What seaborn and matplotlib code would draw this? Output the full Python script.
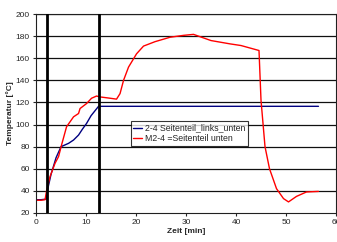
import matplotlib
matplotlib.use('Agg')
import matplotlib.pyplot as plt
import seaborn as sns
import pandas as pd

sns.set_style('ticks')
plt.rcParams['font.family'] = ['Liberation Sans', 'DejaVu Sans']

# Blue series: 2-4 Seitenteil_links_unten
blue_t = [0, 1, 2, 2.5, 3, 4, 5, 6, 6.5, 7.5, 8.5, 9.3, 10.1, 11, 12.5, 20, 30, 40, 50, 56.5]
blue_v = [32, 32, 32.5, 45, 55, 70, 80, 82, 83, 86, 90.5, 96, 101, 108, 116.5, 116.5, 116.5, 116.5, 116.5, 116.5]

# Red series: M2-4 =Seitenteil unten
red_t = [0, 1, 1.8, 2.1, 2.8, 3.8, 4.5, 5.1, 6.1, 7.5, 8.5, 8.8, 10.1, 11.1, 12.1, 12.8,
         14.5, 16.1, 16.8, 17.5, 18.5, 20.1, 21.5, 23.8, 26.8, 29.5, 31.5, 32.8, 35,
         38.8, 41, 43.8, 44.6, 45, 45.8, 46.7, 48.1, 49.5, 50.5, 52.1, 54.1, 56.5]
red_v = [31.5, 31.5, 32, 40, 53, 65, 71, 81.5, 98, 107, 110, 114.5, 119, 123.8, 125.8, 125,
         124, 123, 128, 140, 152, 164, 171, 175, 179, 180.7, 181.6, 179.5, 176,
         173, 171.5, 168, 167, 122, 80, 60, 42, 33, 30, 35, 39, 39.5]

markers_t = [2.2, 12.5]

df = pd.concat([
    pd.DataFrame({'Zeit': blue_t, 'Temp': blue_v, 'Serie': '2-4 Seitenteil_links_unten'}),
    pd.DataFrame({'Zeit': red_t, 'Temp': red_v, 'Serie': 'M2-4 =Seitenteil unten'}),
])

fig = plt.figure(figsize=(3.37, 2.42), dpi=100)
ax = fig.add_axes([0.107, 0.12, 0.89, 0.822])

for y in range(40, 201, 20):
    ax.axhline(y, color='#101010', linewidth=0.9, zorder=0)

sns.lineplot(data=df, x='Zeit', y='Temp', hue='Serie',
             palette=['#000080', '#ff0000'], linewidth=1.0, ax=ax, sort=False)

for xm in markers_t:
    ax.axvline(xm, color='black', linewidth=2.0, zorder=3)

ax.set_xlim(0, 60)
ax.set_ylim(20, 200)
ax.set_xticks(range(0, 61, 10))
ax.set_yticks(range(20, 201, 20))
ax.tick_params(labelsize=6, length=2.5, width=0.8, pad=2)
ax.set_xlabel('Zeit [min]', fontsize=6, fontweight='bold', labelpad=1)
ax.set_ylabel('Temperatur [°C]', fontsize=6, fontweight='bold', labelpad=1)
for s in ax.spines.values():
    s.set_linewidth(0.8)
    s.set_color('#202020')

leg = ax.legend(loc='upper left', bbox_to_anchor=(0.315, 0.462), fontsize=6.3,
                frameon=True, fancybox=False, handlelength=1.0, handletextpad=0.3,
                borderpad=0.3, labelspacing=0.2, borderaxespad=0)
leg.get_frame().set_edgecolor('black')
leg.get_frame().set_linewidth(0.8)
leg.set_title(None)

fig.savefig('out.png', dpi=100)
